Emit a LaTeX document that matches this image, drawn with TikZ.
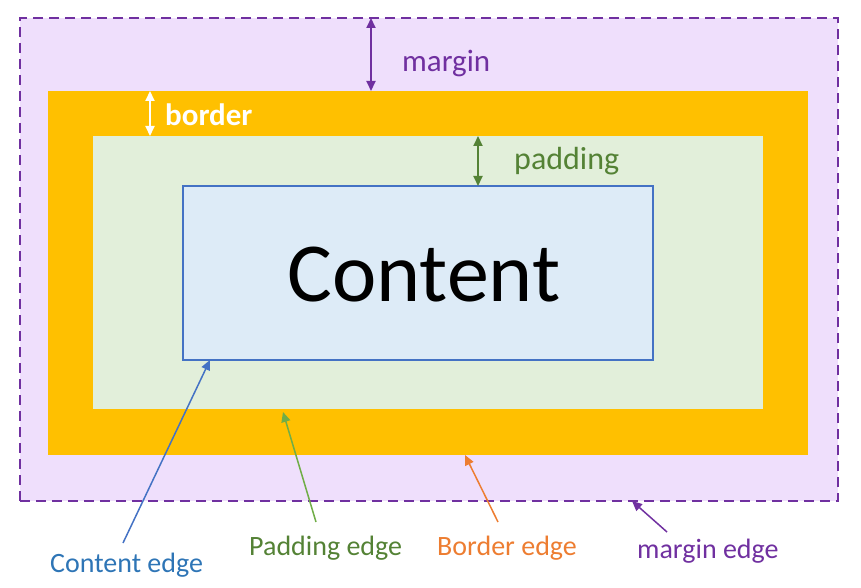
\documentclass[tikz,border=0pt]{standalone}
\usepackage{fontspec}
\setmainfont{Carlito}
\usetikzlibrary{arrows.meta}
\definecolor{mpurple}{HTML}{7030A0}
\definecolor{mfill}{HTML}{EFDFFC}
\definecolor{borange}{HTML}{FFC000}
\definecolor{pfill}{HTML}{E2EFDA}
\definecolor{cfill}{HTML}{DDEBF7}
\definecolor{cline}{HTML}{4472C4}
\definecolor{dgreen}{HTML}{548235}
\definecolor{lgreen}{HTML}{70AD47}
\definecolor{eorange}{HTML}{ED7D31}
\definecolor{tblue}{HTML}{2E75B6}
\def \tri{Triangle[length=10pt,width=9pt]}

\begin{document}
\begin{tikzpicture}[x=1pt, y=-1pt,
    box/.style={rectangle, inner sep=0pt, outer sep=0pt},
    lbl/.style={anchor=base west, inner sep=0pt, font=\fontsize{28}{30}\selectfont},
    toedge/.style={-{\tri}, line width=1.5pt},
    both/.style={{\tri}-{\tri}, line width=2pt}]
  \useasboundingbox (0,0) rectangle (861,588);
  \node[box, fill=mfill, draw=mpurple, line width=2.6pt, dash pattern=on 10pt off 6pt,
        minimum width=818, minimum height=483] (marginbox) at (429,259.5) {};
  \node[box, fill=borange, minimum width=760, minimum height=364] (borderbox) at (428,273) {};
  \node[box, fill=pfill, minimum width=670, minimum height=273] (paddingbox) at (428,272.5) {};
  \node[box, fill=cfill, draw=cline, line width=1.3pt, minimum width=470, minimum height=174] (content) at (418,273) {};
  \node[font=\fontsize{84}{84}\selectfont] (contentlbl) at (424,275) {Content};

  \node[lbl, text=mpurple, font=\fontsize{31}{33}\selectfont] (marginlbl) at (402,72) {margin};
  \node[lbl, text=white, font=\fontsize{31}{33}\selectfont\bfseries] (borderlbl) at (165,126) {border};
  \node[lbl, text=dgreen, font=\fontsize{32}{34}\selectfont] (paddinglbl) at (514,170) {padding};
  \node[lbl, text=tblue] (clbl) at (50,572) {Content edge};
  \node[lbl, text=dgreen] (plbl) at (249,555) {Padding edge};
  \node[lbl, text=eorange] (blbl) at (437,555) {Border edge};
  \node[lbl, text=mpurple] (mlbl) at (637,558) {margin edge};

  \path[both, mpurple] ([xshift=-58pt]marginbox.north) edge ([xshift=-57pt]borderbox.north);
  \path[both, white] ([xshift=-278pt]borderbox.north) edge ([xshift=-278pt]paddingbox.north);
  \path[both, dgreen] ([xshift=50pt]paddingbox.north) edge ([xshift=60pt]content.north);

  \path[toedge, cline] ([shift={(73,-29)}]clbl.base west) edge ([xshift=27pt]content.south west);
  \path[toedge, lgreen] ([shift={(67,-33)}]plbl.base west) edge ([shift={(190,3)}]paddingbox.south west);
  \path[toedge, eorange] ([shift={(61,-33)}]blbl.base west) edge ([xshift=417pt]borderbox.south west);
  \path[toedge, mpurple] ([shift={(30,-26)}]mlbl.base west) edge ([xshift=612pt]marginbox.south west);
\end{tikzpicture}
\end{document}
